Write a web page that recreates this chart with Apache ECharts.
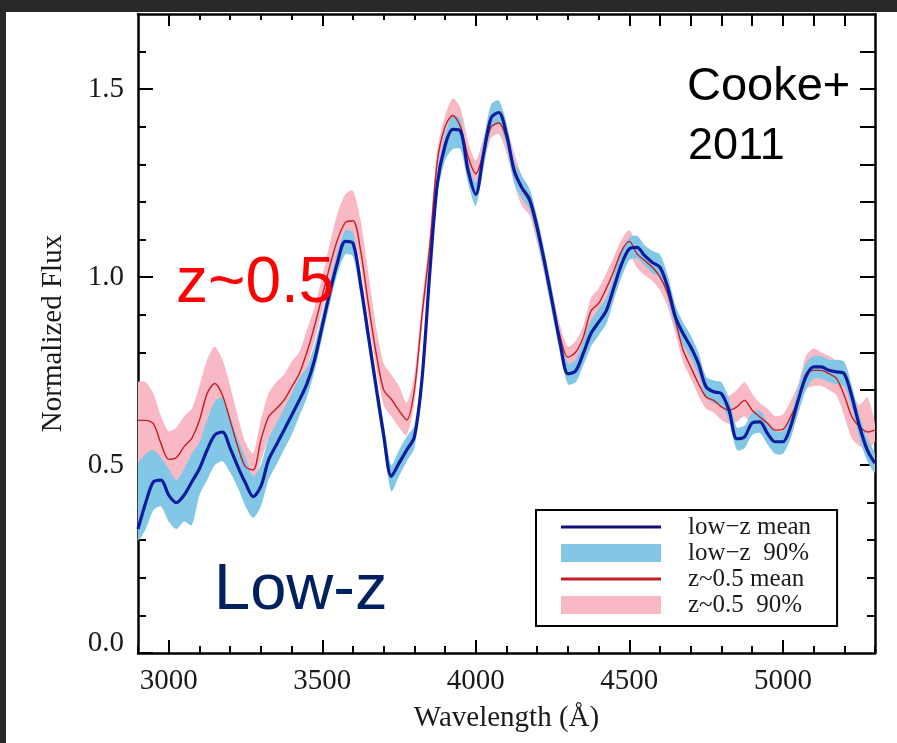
<!DOCTYPE html>
<html>
<head>
<meta charset="utf-8">
<title>Composite spectra: low-z vs z~0.5</title>
<script src="https://cdn.jsdelivr.net/npm/echarts@6/dist/echarts.min.js"></script>
<style>
  html, body { margin: 0; padding: 0; background: #fff; }
  #wrap { position: relative; width: 897px; height: 743px; overflow: hidden; }
  #chart { position: absolute; left: 0; top: 0; width: 897px; height: 743px; }
  .edge { position: absolute; background: #282828; }
</style>
</head>
<body>
<div id="wrap">
  <div id="chart"></div>
  <div class="edge" style="left:0;top:0;width:897px;height:12px"></div>
  <div class="edge" style="left:0;top:0;width:6px;height:743px"></div>
</div>
<script>
// Rest-frame wavelength grid (Angstrom)
const WAVE = [
  2900, 2925, 2950, 2975, 3000, 3025, 3050, 3075, 3100, 3125, 3150, 3175,
  3200, 3225, 3250, 3275, 3300, 3325, 3350, 3375, 3400, 3425, 3450, 3475,
  3500, 3525, 3550, 3575, 3600, 3625, 3650, 3675, 3700, 3725, 3750, 3775,
  3800, 3825, 3850, 3875, 3900, 3925, 3950, 3975, 4000, 4025, 4050, 4075,
  4100, 4125, 4150, 4175, 4200, 4225, 4250, 4275, 4300, 4325, 4350, 4375,
  4400, 4425, 4450, 4475, 4500, 4525, 4550, 4575, 4600, 4625, 4650, 4675,
  4700, 4725, 4750, 4775, 4800, 4825, 4850, 4875, 4900, 4925, 4950, 4975,
  5000, 5025, 5050, 5075, 5100, 5125, 5150, 5175, 5200, 5225, 5250, 5275,
  5300
];

// low-z composite: mean and 90% range
const LOWZ_MEAN = [
  0.33, 0.40, 0.455, 0.46, 0.42, 0.40, 0.42, 0.455, 0.49, 0.54, 0.58, 0.588,
  0.545, 0.496, 0.452, 0.416, 0.443, 0.513, 0.553, 0.592, 0.632, 0.672, 0.716, 0.78,
  0.87, 0.96, 1.04, 1.095, 1.09, 0.98, 0.845, 0.71, 0.58, 0.47, 0.505, 0.54,
  0.575, 0.73, 1.01, 1.25, 1.35, 1.393, 1.389, 1.283, 1.22, 1.327, 1.424, 1.438,
  1.38, 1.283, 1.238, 1.207, 1.132, 1.035, 0.929, 0.823, 0.743, 0.75, 0.797, 0.85,
  0.88, 0.911, 0.973, 1.035, 1.075, 1.079, 1.057, 1.039, 1.026, 0.973, 0.894, 0.85,
  0.814, 0.77, 0.708, 0.695, 0.69, 0.645, 0.57, 0.575, 0.612, 0.615, 0.584, 0.562,
  0.562, 0.602, 0.673, 0.735, 0.761, 0.761, 0.752, 0.748, 0.743, 0.681, 0.602, 0.54,
  0.505
];
const LOWZ_LO = [
  0.30, 0.33, 0.38, 0.39, 0.35, 0.33, 0.35, 0.34, 0.42, 0.46, 0.50, 0.51,
  0.48, 0.44, 0.39, 0.36, 0.39, 0.46, 0.50, 0.54, 0.58, 0.63, 0.68, 0.75,
  0.84, 0.93, 1.01, 1.06, 1.055, 0.95, 0.815, 0.68, 0.55, 0.43, 0.47, 0.51,
  0.545, 0.70, 0.98, 1.22, 1.31, 1.34, 1.34, 1.25, 1.19, 1.29, 1.39, 1.41,
  1.35, 1.25, 1.21, 1.18, 1.10, 1.005, 0.90, 0.795, 0.715, 0.72, 0.765, 0.815,
  0.845, 0.875, 0.94, 1.00, 1.045, 1.05, 1.03, 1.01, 1.00, 0.945, 0.865, 0.82,
  0.785, 0.74, 0.68, 0.665, 0.66, 0.615, 0.54, 0.545, 0.58, 0.585, 0.555, 0.53,
  0.53, 0.57, 0.64, 0.70, 0.73, 0.73, 0.72, 0.715, 0.71, 0.65, 0.57, 0.51,
  0.48
];
const LOWZ_HI = [
  0.50, 0.53, 0.54, 0.52, 0.49, 0.46, 0.49, 0.53, 0.56, 0.62, 0.67, 0.68,
  0.63, 0.57, 0.52, 0.47, 0.50, 0.57, 0.61, 0.65, 0.69, 0.73, 0.76, 0.82,
  0.90, 0.99, 1.07, 1.125, 1.12, 1.01, 0.875, 0.74, 0.61, 0.50, 0.54, 0.575,
  0.605, 0.76, 1.04, 1.28, 1.38, 1.43, 1.42, 1.31, 1.25, 1.36, 1.46, 1.47,
  1.41, 1.31, 1.27, 1.235, 1.16, 1.065, 0.96, 0.85, 0.77, 0.78, 0.83, 0.885,
  0.915, 0.945, 1.005, 1.07, 1.105, 1.11, 1.085, 1.07, 1.06, 1.005, 0.925, 0.88,
  0.845, 0.80, 0.735, 0.725, 0.72, 0.675, 0.60, 0.605, 0.64, 0.645, 0.615, 0.59,
  0.59, 0.63, 0.705, 0.77, 0.79, 0.79, 0.78, 0.78, 0.775, 0.71, 0.63, 0.57,
  0.53
];

// z~0.5 composite: mean and 90% range
const MIDZ_MEAN = [
  0.619, 0.619, 0.61, 0.557, 0.515, 0.52, 0.549, 0.571, 0.619, 0.69, 0.717, 0.686,
  0.619, 0.549, 0.495, 0.487, 0.566, 0.628, 0.65, 0.672, 0.707, 0.743, 0.80, 0.87,
  0.95, 1.03, 1.10, 1.145, 1.15, 1.07, 0.93, 0.80, 0.70, 0.675, 0.645, 0.62,
  0.70, 0.90, 1.08, 1.31, 1.40, 1.43, 1.40, 1.32, 1.275, 1.33, 1.40, 1.41,
  1.37, 1.29, 1.235, 1.20, 1.12, 1.03, 0.93, 0.84, 0.787, 0.80, 0.84, 0.91,
  0.93, 0.97, 1.017, 1.07, 1.095, 1.062, 1.044, 1.026, 1.0, 0.956, 0.885, 0.806,
  0.761, 0.717, 0.681, 0.672, 0.655, 0.646, 0.655, 0.672, 0.646, 0.628, 0.611, 0.593,
  0.595, 0.628, 0.673, 0.743, 0.752, 0.752, 0.743, 0.73, 0.685, 0.628, 0.602, 0.588,
  0.593
];
const MIDZ_LO = [
  0.49, 0.50, 0.50, 0.47, 0.45, 0.45, 0.48, 0.50, 0.54, 0.60, 0.64, 0.61,
  0.54, 0.49, 0.45, 0.45, 0.51, 0.57, 0.60, 0.63, 0.665, 0.70, 0.76, 0.83,
  0.91, 0.99, 1.06, 1.10, 1.11, 1.03, 0.89, 0.76, 0.66, 0.63, 0.60, 0.58,
  0.665, 0.865, 1.045, 1.28, 1.37, 1.39, 1.37, 1.285, 1.24, 1.30, 1.37, 1.38,
  1.33, 1.25, 1.19, 1.165, 1.09, 1.00, 0.90, 0.81, 0.76, 0.77, 0.81, 0.87,
  0.89, 0.93, 0.975, 1.03, 1.06, 1.025, 1.005, 0.99, 0.965, 0.92, 0.85, 0.775,
  0.73, 0.685, 0.65, 0.64, 0.62, 0.61, 0.615, 0.63, 0.605, 0.59, 0.575, 0.555,
  0.56, 0.59, 0.635, 0.70, 0.71, 0.71, 0.70, 0.685, 0.63, 0.57, 0.55, 0.54,
  0.565
];
const MIDZ_HI = [
  0.72, 0.72, 0.69, 0.63, 0.59, 0.60, 0.63, 0.65, 0.71, 0.78, 0.815, 0.78,
  0.71, 0.63, 0.56, 0.53, 0.62, 0.69, 0.72, 0.74, 0.775, 0.80, 0.86, 0.92,
  1.00, 1.09, 1.17, 1.22, 1.23, 1.15, 1.01, 0.87, 0.77, 0.74, 0.71, 0.665,
  0.74, 0.935, 1.115, 1.34, 1.43, 1.475, 1.45, 1.36, 1.31, 1.37, 1.43, 1.44,
  1.40, 1.33, 1.27, 1.235, 1.15, 1.06, 0.96, 0.87, 0.815, 0.83, 0.87, 0.945,
  0.97, 1.01, 1.055, 1.10, 1.125, 1.09, 1.075, 1.06, 1.035, 0.99, 0.92, 0.84,
  0.795, 0.75, 0.715, 0.705, 0.69, 0.685, 0.70, 0.72, 0.69, 0.665, 0.65, 0.63,
  0.635, 0.67, 0.715, 0.79, 0.81, 0.80, 0.79, 0.775, 0.74, 0.69, 0.66, 0.68,
  0.61
];

// Tick positions and labels
const X_LABELS = [3000, 3500, 4000, 4500, 5000];
const X_MINOR = [2900, 3100, 3200, 3300, 3400, 3600, 3700, 3800, 3900,
                 4100, 4200, 4300, 4400, 4600, 4700, 4800, 4900, 5100, 5200, 5300];
const X_TOP_LONG = [3000, 3500, 4000, 4500, 4600, 4700, 4800, 4900, 5000, 5100, 5200];
const X_TOP_SHORT = [3100, 3200, 3300, 3400, 3600, 3700, 3800, 3900, 4100, 4200, 4300, 4400];
const Y_LABELS = [0, 0.5, 1.0, 1.5];
const Y_MINOR = [0.1, 0.2, 0.3, 0.4, 0.6, 0.7, 0.8, 0.9, 1.1, 1.2, 1.3, 1.4, 1.6];
const Y_RIGHT_LONG = [0.5, 0.6, 0.7, 0.8, 0.9, 1.0, 1.1, 1.2, 1.3, 1.4, 1.5, 1.6];
const Y_RIGHT_SHORT = [0.1, 0.2, 0.3, 0.4];

const NAMES = {
  lowMean: 'low\u2212z mean',
  lowBand: 'low\u2212z  90%',
  midMean: 'z~0.5 mean',
  midBand: 'z~0.5  90%'
};

const LOW_LINE = '#0d1c9c';
const LOW_FILL = '#82c8e6';
const MID_LINE = '#c41e24';
const MID_FILL = '#f8b8c4';
const SERIF = 'Liberation Serif';
const INK = '#1a1a1a';

// legend swatch: a 3px stroke centred in a 100x18 box
const LINE_ICON = 'path://M0,0H0.01V0.01H0ZM0,7.5H100V10.5H0ZM99.99,17.99H100V18H99.99Z';

const pairs = ys => WAVE.map((x, i) => [x, ys[i]]);

const X_RANGE = { min: 2900, max: 5300 };
const Y_RANGE = { min: 0, max: 1.7 };

function frameAxis(range, position, ticks, len, withLine) {
  return Object.assign({
    type: 'value',
    position: position,
    axisLine: { show: withLine, onZero: false, lineStyle: { color: '#000', width: 2.5 } },
    axisTick: { show: true, inside: true, length: len, customValues: ticks,
                lineStyle: { color: '#000', width: 2 } },
    axisLabel: { show: false },
    splitLine: { show: false }
  }, range);
}

const xMain = frameAxis(X_RANGE, 'bottom', X_LABELS, 13, true);
xMain.axisLabel = { show: true, customValues: X_LABELS, margin: 14,
                    fontFamily: SERIF, fontSize: 29, color: INK,
                    formatter: v => String(v) };
xMain.name = 'Wavelength (\u00C5)';
xMain.nameLocation = 'middle';
xMain.nameGap = 51;
xMain.nameTextStyle = { fontFamily: SERIF, fontSize: 29, color: INK };

const yMain = frameAxis(Y_RANGE, 'left', Y_LABELS, 15, true);
yMain.axisLabel = { show: true, customValues: Y_LABELS, margin: 14,
                    fontFamily: SERIF, fontSize: 29, color: INK, lineHeight: 20,
                    verticalAlignMinLabel: 'bottom',
                    formatter: v => v.toFixed(1) };
yMain.name = 'Normalized Flux';
yMain.nameLocation = 'middle';
yMain.nameGap = 70;
yMain.nameTextStyle = { fontFamily: SERIF, fontSize: 29, color: INK };

// 90% range drawn as a filled polygon between the lower and upper bounds
function band(name, lo, hi, fill) {
  return {
    type: 'custom', name: name, silent: true, clip: true,
    color: fill, itemStyle: { color: fill },
    data: WAVE.map((x, i) => [x, lo[i], hi[i]]),
    encode: { x: 0, y: [1, 2] },
    renderItem: (params, api) => {
      if (params.dataIndex !== 0) return null;
      const upper = WAVE.map((x, i) => api.coord([x, hi[i]]));
      const lower = WAVE.map((x, i) => api.coord([x, lo[i]])).reverse();
      return {
        type: 'polygon',
        shape: { points: upper.concat(lower), smooth: 0.25 },
        style: { fill: fill, stroke: null }
      };
    }
  };
}

// large annotations sit above the curves
function note(text, x, y, size, color) {
  return { type: 'text', x: x, y: y, z: 100, silent: true,
           style: { text: text, fill: color, fontFamily: 'Liberation Sans', fontSize: size,
                    verticalAlign: 'middle', align: 'left' } };
}

const chart = echarts.init(document.getElementById('chart'), null, { renderer: 'canvas' });
chart.setOption({
  animation: false,
  backgroundColor: '#fff',
  grid: { left: 138, top: 14, right: 22, bottom: 90, containLabel: false, outerBoundsMode: 'none' },
  xAxis: [
    xMain,
    frameAxis(X_RANGE, 'bottom', X_MINOR, 7, false),
    frameAxis(X_RANGE, 'top', X_TOP_LONG, 12, true),
    frameAxis(X_RANGE, 'top', X_TOP_SHORT, 6, false)
  ],
  yAxis: [
    yMain,
    frameAxis(Y_RANGE, 'left', Y_MINOR, 8, false),
    frameAxis(Y_RANGE, 'right', Y_RIGHT_LONG, 15, true),
    frameAxis(Y_RANGE, 'right', Y_RIGHT_SHORT, 8, false)
  ],
  legend: {
    left: 536, top: 510, z: 50,
    orient: 'vertical',
    itemWidth: 100, itemHeight: 18, itemGap: 0,
    padding: [4, 26, 8, 25],
    borderColor: '#000', borderWidth: 2,
    backgroundColor: '#fff',
    selectedMode: false,
    textStyle: { fontFamily: SERIF, fontSize: 25, color: INK, lineHeight: 26,
                 padding: [0, 0, 0, 22] },
    data: [
      { name: NAMES.lowMean, icon: LINE_ICON, itemStyle: { color: '#10107a', opacity: 1 } },
      { name: NAMES.lowBand, icon: 'rect', itemStyle: { color: LOW_FILL, opacity: 1 } },
      { name: NAMES.midMean, icon: LINE_ICON, itemStyle: { color: MID_LINE, opacity: 1 } },
      { name: NAMES.midBand, icon: 'rect', itemStyle: { color: MID_FILL, opacity: 1 } }
    ]
  },
  series: [
    band(NAMES.midBand, MIDZ_LO, MIDZ_HI, MID_FILL),
    band(NAMES.lowBand, LOWZ_LO, LOWZ_HI, LOW_FILL),
    { type: 'line', name: NAMES.midMean, data: pairs(MIDZ_MEAN), symbol: 'none',
      smooth: 0.3, color: MID_LINE, lineStyle: { color: MID_LINE, width: 1.4 } },
    { type: 'line', name: NAMES.lowMean, data: pairs(LOWZ_MEAN), symbol: 'none',
      smooth: 0.3, color: LOW_LINE, lineStyle: { color: LOW_LINE, width: 3.2 } }
  ],
  graphic: {
    elements: [
      note('Cooke+', 687, 87, 47, '#000'),
      note('2011', 688, 147, 45, '#000'),
      note('z~0.5', 176, 284, 64, '#ff0000'),
      note('Low-z', 214, 591, 65, '#002060')
    ]
  }
});
</script>
</body>
</html>
